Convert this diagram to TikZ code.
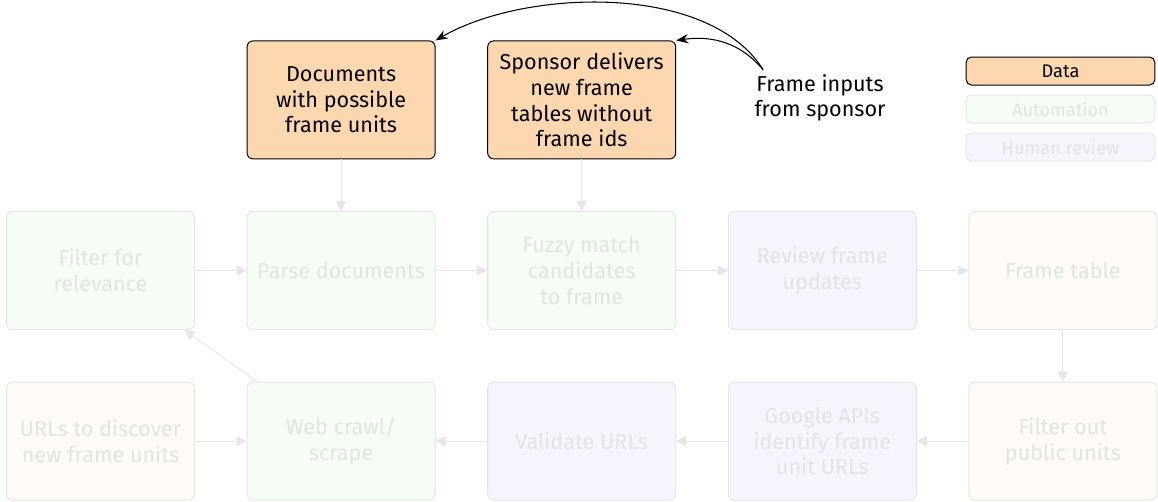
\documentclass[tikz,border=0pt]{standalone}
\usepackage{fontspec}
\setmainfont{Fira Sans}
\usetikzlibrary{positioning, arrows.meta}
\definecolor{datafill}{HTML}{FDD7B0}
\definecolor{datafaint}{HTML}{FEFAF5}
\definecolor{autofaint}{HTML}{F5FDF4}
\definecolor{humanfaint}{HTML}{F4F5FD}
\definecolor{faintline}{HTML}{E6E6E6}
\definecolor{fainttext}{HTML}{E2E4E2}
\tikzset{
	node distance=38.7pt, % gap between the boxes
	box/.style={rectangle, rounded corners=4.5pt, minimum width=141pt, minimum height=88.5pt, align=center, line width=0.75pt, font=\fontsize{16.2}{19.3}\selectfont}, % every step of the flow
	data/.style={box, draw=black, fill=datafill}, % highlighted inputs
	oldata/.style={box, draw=faintline, fill=datafaint, text=fainttext}, % faded data
	auto/.style={box, draw=faintline, fill=autofaint, text=fainttext}, % faded automation
	human/.style={box, draw=faintline, fill=humanfaint, text=fainttext}, % faded human review
	key/.style={rectangle, rounded corners=4pt, minimum width=141.5pt, minimum height=21pt, line width=0.75pt, font=\fontsize{13.7}{16}\selectfont}, % legend entries
	flow/.style={draw=faintline, line width=0.75pt, -{Triangle[length=7.5pt, width=7.5pt]}}, % faded connectors
	feed/.style={draw=black, line width=0.8pt, -{Stealth[length=9pt, width=7pt]}}, % sponsor input arrows
}
\begin{document}
\begin{tikzpicture}[x=0.75pt, y=-0.75pt]
	\useasboundingbox (0,0) rectangle (1158,501);
	% first row
	\node[auto] (filter) at (100.5,270.5) {Filter for\\relevance};
	\node[auto, right=of filter] (parse) {Parse documents};
	\node[auto, right=of parse] (fuzzy) {Fuzzy match\\candidates\\to frame};
	\node[human, right=of fuzzy] (review) {Review frame\\updates};
	\node[oldata, right=of review] (table) {Frame table};
	% second row
	\node[oldata, below=of filter] (urls) {URLs to discover\\new frame units};
	\node[auto, below=of parse] (crawl) {Web crawl/\\scrape};
	\node[human, below=of fuzzy] (validate) {Validate URLs};
	\node[human, below=of review] (google) {Google APIs\\identify frame\\unit URLs};
	\node[oldata, below=of table] (public) {Filter out\\public units};
	% inputs
	\node[data, above=of parse] (docs) {Documents\\with possible\\frame units};
	\node[data, above=of fuzzy] (sponsor) {Sponsor delivers\\new frame\\tables without\\frame ids};
	\node[align=center, font=\fontsize{16.2}{19.3}\selectfont] (src) at (820,98) {Frame inputs\\from sponsor};
	% legend
	\node[key, draw=black, fill=datafill] (kdata) at (1060.5,71) {Data};
	\node[key, draw=faintline, fill=autofaint, text=fainttext, below=6.75pt of kdata] (kauto) {Automation};
	\node[key, draw=faintline, fill=humanfaint, text=fainttext, below=6.75pt of kauto] (khuman) {Human review};

	\draw[flow] (docs) -- (parse);
	\draw[flow] (sponsor) -- (fuzzy);
	\draw[flow] (filter) -- (parse);
	\draw[flow] (parse) -- (fuzzy);
	\draw[flow] (fuzzy) -- (review);
	\draw[flow] (review) -- (table);
	\draw[flow] (table) -- (public);
	\draw[flow] (public) -- (google);
	\draw[flow] (google) -- (validate);
	\draw[flow] (validate) -- (crawl);
	\draw[flow] (urls) -- (crawl);
	\draw[flow] (crawl) -- (filter);
	\draw[feed] ([xshift=10pt]src.north west) to[out=122, in=30, looseness=0.8] (docs.north east);
	\draw[feed] ([xshift=10pt]src.north west) to[out=130, in=8] (sponsor.north east);
\end{tikzpicture}
\end{document}
